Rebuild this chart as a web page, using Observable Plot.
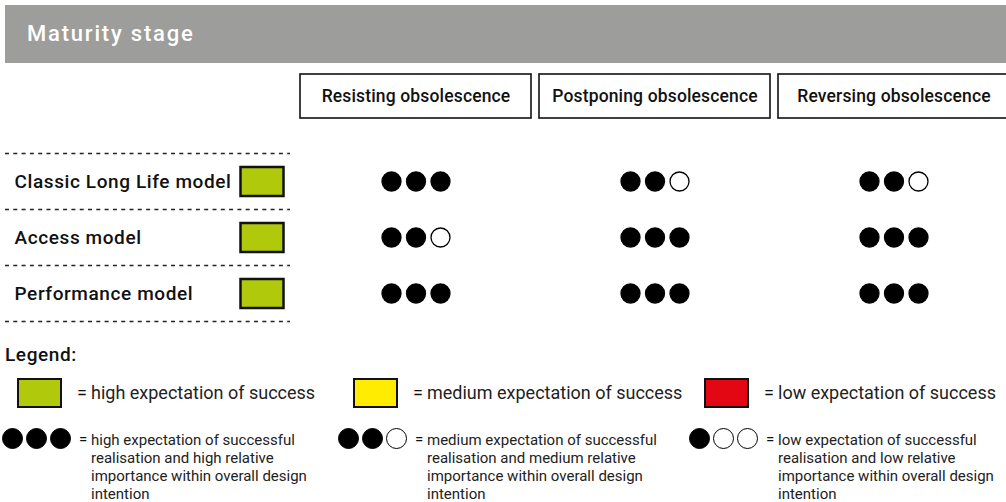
<!DOCTYPE html>
<html>
<head>
<meta charset="utf-8">
<script src="https://cdn.jsdelivr.net/npm/d3@7"></script>
<script src="https://cdn.jsdelivr.net/npm/@observablehq/plot@0.6"></script>
<style>
  html, body { margin: 0; padding: 0; background: #fff; width: 1006px; height: 502px; overflow: hidden; }
  body { font-family: Roboto, "Noto Sans", sans-serif; color: #111; }
  #title { margin: 5px 0 0 5px; height: 58px; background: #9d9d9c; color: #fff; font-size: 22px; font-weight: 500; letter-spacing: 1.8px; line-height: 58px; padding-left: 22px; box-sizing: border-box; }
  #chart svg { display: block; overflow: hidden; }
  #legend { position: relative; height: 172px; }
  #legend .abs { position: absolute; white-space: nowrap; }
  .sw { position: absolute; width: 45px; height: 30px; box-sizing: border-box; border: 2.5px solid #111; }
  .dot { position: absolute; width: 21px; height: 21px; border-radius: 50%; box-sizing: border-box; border: 1.3px solid #000; }
</style>
</head>
<body>
<div id="title"></div>
<div id="chart"></div>
<div id="legend"></div>
<script>
// ---- data ----
const titleText = "Maturity stage";
const columns = ["Resisting obsolescence", "Postponing obsolescence", "Reversing obsolescence"];
const models = ["Classic Long Life model", "Access model", "Performance model"];
const modelExpectation = ["high", "high", "high"];
// filled dots (out of 3) per model × column
const scoreClassic = [3, 2, 2];
const scoreAccess = [2, 3, 3];
const scorePerformance = [3, 3, 3];
const expectationLevels = ["high", "medium", "low"];
const expectationColors = ["#b1c90b", "#ffec00", "#e30613"];
const swatchLabels = ["high expectation of success", "medium expectation of success", "low expectation of success"];
const dotLegendScores = [3, 2, 1];
const dotLegendLines = [
  ["high expectation of successful", "realisation and high relative", "importance within overall design", "intention"],
  ["medium expectation of successful", "realisation and medium relative", "importance within overall design", "intention"],
  ["low expectation of successful", "realisation and low relative", "importance within overall design", "intention"]
];
const legendTitle = "Legend:";

// ---- build ----
document.getElementById("title").textContent = titleText;

const scores = [scoreClassic, scoreAccess, scorePerformance];
const cells = models.flatMap((m, mi) => columns.map((c, ci) => ({model: m, column: c, mi, ci, score: scores[mi][ci]})));
const boundaries = models.map((d, i) => i - 0.5).concat([models.length - 0.5]);
const color = d3.scaleOrdinal(expectationLevels, expectationColors);

const rectSymbol = { draw(ctx) { ctx.rect(-21.5, -14.5, 43, 29); } };

const font = "Roboto, 'Noto Sans', sans-serif";
const dotMarks = [0, 1, 2].map(k => Plot.dot(cells, {
  x: "ci", y: "mi", dx: (k - 1) * 24.5, r: 9.5,
  fill: d => d.score > k ? "#000" : "#fff", stroke: "#000", strokeWidth: 1.3
}));

const plot = Plot.plot({
  width: 1006, height: 267, margin: 0,
  style: {fontFamily: font, background: "#fff", color: "#111"},
  x: {type: "linear", domain: [-0.5, columns.length - 0.5], range: [296, 1013], axis: null},
  y: {type: "linear", domain: [-0.5, models.length - 0.5], range: [90, 258], axis: null},
  marks: [
    Plot.rect(columns, {x1: (d, i) => i - 0.5, x2: (d, i) => i + 0.5, insetLeft: 4, insetRight: 4, insetTop: 11, insetBottom: 212, fill: "#fff", stroke: "#111", strokeWidth: 1.6}),
    Plot.text(columns, {x: (d, i) => i, frameAnchor: "top", lineAnchor: "middle", dy: 33, text: d => d, fontWeight: 500, fontSize: 17.5, fill: "#111"}),
    Plot.ruleY(boundaries, {y: d => d, insetLeft: 5, insetRight: 716, stroke: "#222", strokeWidth: 1.3, strokeDasharray: "4,4.3"}),
    Plot.text(models, {y: (d, i) => i, frameAnchor: "left", dx: 14, textAnchor: "start", text: d => d, fontWeight: 500, fontSize: 19, fill: "#111"}),
    Plot.dot(models, {y: (d, i) => i, frameAnchor: "left", dx: 261.5, symbol: rectSymbol, fill: (d, i) => color(modelExpectation[i]), stroke: "#111", strokeWidth: 2.5}),
    ...dotMarks
  ]
});
d3.select(plot).selectAll("text").filter(function () { return models.includes(this.textContent); }).attr("letter-spacing", "0.6px");
d3.select(plot).selectAll("text").filter(function () { return columns.includes(this.textContent); }).attr("letter-spacing", "0.15px");
document.getElementById("chart").appendChild(plot);

// legend
const lg = document.getElementById("legend");
function add(html, style) {
  const el = document.createElement("div");
  el.className = "abs";
  el.innerHTML = html;
  Object.assign(el.style, style);
  lg.appendChild(el);
  return el;
}
add(legendTitle, {left: "5px", top: "14px", lineHeight: "22px", fontSize: "19px", fontWeight: "500", letterSpacing: "0.6px"});
const textX = [91, 427, 778];
expectationLevels.forEach((lvl, i) => {
  const sw = document.createElement("div");
  sw.className = "sw";
  Object.assign(sw.style, {left: (textX[i] - 74) + "px", top: "48px", background: color(lvl)});
  lg.appendChild(sw);
  add("=", {left: (textX[i] - 14) + "px", top: "52px", lineHeight: "22px", fontSize: "18px"});
  add(swatchLabels[i], {left: textX[i] + "px", top: "52px", lineHeight: "22px", fontSize: "18px", color: "#222"});
  // dots
  for (let k = 0; k < 3; k++) {
    const d = document.createElement("div");
    d.className = "dot";
    Object.assign(d.style, {left: (textX[i] - 89 + k * 24) + "px", top: "98px", background: dotLegendScores[i] > k ? "#000" : "#fff"});
    lg.appendChild(d);
  }
  add("=", {left: (textX[i] - 12) + "px", top: "100px", lineHeight: "18px", fontSize: "15px"});
  add(dotLegendLines[i].join("<br>"), {left: textX[i] + "px", top: "101px", lineHeight: "18px", fontSize: "15px", color: "#222"});
});
</script>
</body>
</html>
